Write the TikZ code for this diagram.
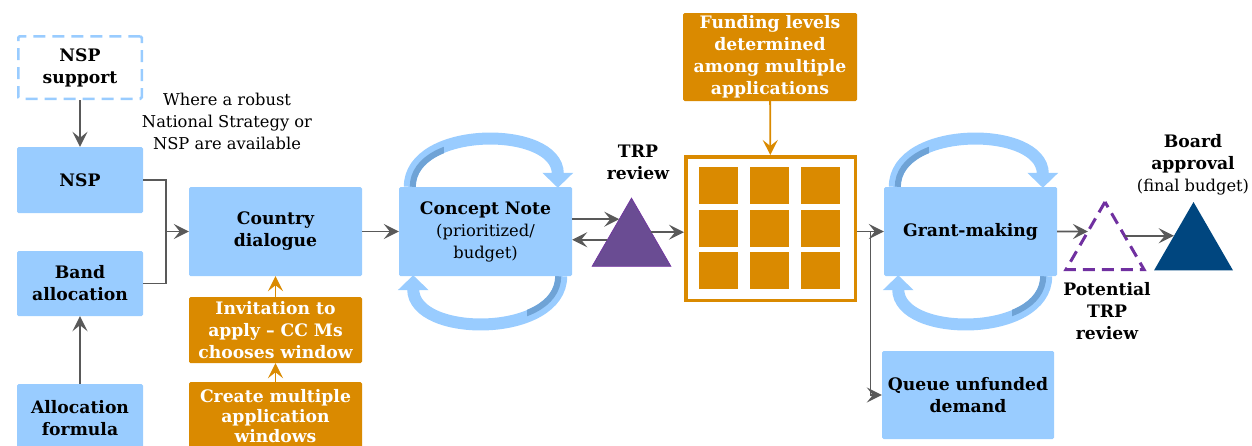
\documentclass[tikz,border=0pt]{standalone}
\usepackage{fontspec}
\setmainfont{DejaVu Serif}
\usetikzlibrary{arrows.meta,calc,shapes.geometric}
\definecolor{cblue}{HTML}{99CCFF}
\definecolor{cshade}{HTML}{6FA3D6}
\definecolor{corange}{HTML}{DA8A00}
\definecolor{cgray}{HTML}{595959}
\definecolor{cpurple}{HTML}{6A4C93}
\definecolor{cdpurple}{HTML}{7030A0}
\definecolor{cnavy}{HTML}{00467F}
\pgfdeclarelayer{bg}
\pgfsetlayers{bg,main}
\newcommand\rfs{\fontsize{16.3}{22}\selectfont}
\newcommand\bfs{\fontsize{17.2}{22}\selectfont\bfseries}
\tikzset{
  box/.style={fill=cblue, rounded corners=1.5pt, align=center, inner sep=0pt, font=\bfs},
  obox/.style={fill=corange, rounded corners=1.5pt, align=center, inner sep=0pt, font=\bfs, text=white},
  conn/.style={draw=cgray, line width=1.8pt, -{Stealth[length=15pt,width=15pt,inset=6pt]}},
  oconn/.style={draw=corange, line width=1.8pt, -{Stealth[length=15pt,width=15pt,inset=6pt]}},
  lbl/.style={align=center, inner sep=0pt, font=\rfs},
  ribbon/.style={draw=cblue, line width=12pt, -{Triangle[length=15pt,width=30pt]}},
  sq/.style={fill=corange, minimum width=39pt, minimum height=37pt, inner sep=0pt},
  tri/.style={regular polygon, regular polygon sides=3, inner sep=0pt, outer sep=0pt},
}
\newcommand\cycarrows[1]{%
  \begin{pgfonlayer}{bg}
    \draw[ribbon] ($(#1.north west)+(11,0)$) .. controls ($(#1.north west)+(11,-62)$) and ($(#1.north west)+(159,-62)$) .. ($(#1.north west)+(159,1)$);
    \begin{scope}
      \clip ($(#1.north west)+(-5,0)$) rectangle ($(#1.north west)+(45,-70)$);
      \draw[cshade, line width=6pt] ($(#1.north west)+(14,0)$) .. controls ($(#1.north west)+(14,-59)$) and ($(#1.north west)+(162,-59)$) .. ($(#1.north west)+(162,1)$);
    \end{scope}
    \draw[ribbon] ($(#1.south east)+(-11,0)$) .. controls ($(#1.south east)+(-11,62)$) and ($(#1.south east)+(-159,62)$) .. ($(#1.south east)+(-159,-1)$);
    \begin{scope}
      \clip ($(#1.south east)+(5,0)$) rectangle ($(#1.south east)+(-45,70)$);
      \draw[cshade, line width=6pt] ($(#1.south east)+(-14,0)$) .. controls ($(#1.south east)+(-14,59)$) and ($(#1.south east)+(-162,59)$) .. ($(#1.south east)+(-162,-1)$);
    \end{scope}
  \end{pgfonlayer}}
\begin{document}
\begin{tikzpicture}[x=1pt,y=-1pt]
\useasboundingbox (0,0) rectangle (1252,445);
\clip (0,0) rectangle (1252,445);
% left column
\node[box, fill=white, draw=cblue, line width=2.5pt, dash pattern=on 12pt off 7pt, minimum width=123.5pt, minimum height=62.5pt] (nspsup) at (80,67.5) {NSP\\support};
\node[box, minimum width=126pt, minimum height=66pt] (nsp) at (80,180) {NSP};
\node[box, minimum width=126pt, minimum height=65pt] (band) at (80,283.5) {Band\\allocation};
\node[box, minimum width=126pt, minimum height=68pt] (alloc) at (80,418) {Allocation\\formula};
\node[lbl] (where) at (227,121) {Where a robust\\National Strategy or\\NSP are available};
% country dialogue column
\node[box, minimum width=173pt, minimum height=89pt] (cd) at (275.5,231.5) {Country\\dialogue};
\node[obox, minimum width=173pt, minimum height=66pt] (inv) at (275.5,330) {Invitation to\\apply -- CC Ms\\chooses window};
\node[obox, minimum width=173pt, minimum height=68pt, font=\fontsize{17.2}{20}\selectfont\bfseries] (create) at (275.5,416) {Create multiple\\application\\windows};
% concept note
\node[box, minimum width=173pt, minimum height=89pt, font=\rfs] (cn) at (485.5,231.5) {{\bfs Concept Note}\\(prioritized/\\budget)};
\node[tri, fill=cpurple, draw=cdpurple, line width=0.6pt, minimum size=91.2pt] (trp) at (631.5,243.6) {};
\node[lbl, font=\bfs] (trptext) at (638,162) {TRP\\review};
% funding grid
\node[draw=corange, line width=3.5pt, fill=white, minimum width=169.5pt, minimum height=143.5pt, inner sep=0pt] (grid) at (770.5,228.5) {};
\foreach \c/\x in {1/718.5,2/769,3/820.5}{
  \foreach \r/\y in {1/185.5,2/228,3/270}{
    \node[sq] (sq\r\c) at (\x,\y) {};
  }
}
\node[obox, minimum width=174pt, minimum height=88pt] (fund) at (770,57) {Funding levels\\determined\\among multiple\\applications};
% grant making
\node[box, minimum width=173pt, minimum height=89pt] (gm) at (970.5,231.5) {Grant-making};
\node[box, minimum width=172pt, minimum height=88pt] (queue) at (968,395) {Queue unfunded\\demand};
\node[tri, draw=cdpurple, line width=3pt, dash pattern=on 12pt off 7pt, minimum size=90.1pt] (ptrp) at (1105,247) {};
\node[lbl, font=\bfs] (pottext) at (1107,311) {Potential\\TRP\\review};
\node[tri, fill=cnavy, minimum size=91.2pt] (board) at (1193.5,247.6) {};
\node[lbl] (boardtext) at (1193,165) {{\bfs Board}\\{\bfs approval}\\(final budget)};
% cycle ribbons
\cycarrows{cn}
\cycarrows{gm}
% connectors
\draw[conn] (nspsup) -- (nsp);
\draw[conn] (alloc) -- (band);
\coordinate (j1) at ($(nsp.east)+(23,0)$);
\draw[cgray, line width=1.8pt] (nsp.east) -- (j1) |- (band.east);
\draw[conn] (j1 |- cd.west) -- (cd.west);
\draw[oconn] (inv) -- (cd);
\draw[oconn] (create) -- (inv);
\draw[conn] (cd) -- (cn);
\coordinate (trpin) at ($(trp.corner 1)!0.31!(trp.corner 2)$);
\coordinate (trpback) at ($(trp.corner 1)!0.61!(trp.corner 2)$);
\coordinate (trpout) at ($(trp.corner 1)!0.5!(trp.corner 3)$);
\draw[conn] (cn.east |- trpin) -- (trpin);
\draw[conn] (trpback) -- (cn.east |- trpback);
\draw[conn] (trpout) -- (trpout -| grid.west);
\draw[oconn] (fund) -- (grid);
\draw[conn] (gm.west -| grid.east) -- (gm.west);
\coordinate (j2) at ($(grid.east |- gm.west)!0.5!(gm.west)$);
\draw[conn] (j2) |- (queue.west);
\coordinate (pin) at ($(ptrp.corner 1)!0.437!(ptrp.corner 2)$);
\coordinate (pout) at ($(ptrp.corner 1)!0.5!(ptrp.corner 3)$);
\coordinate (bin) at ($(board.corner 1)!0.5!(board.corner 2)$);
\draw[conn] (gm.east) -- (pin);
\draw[conn] (pout) -- (pout -| bin);
\end{tikzpicture}
\end{document}
